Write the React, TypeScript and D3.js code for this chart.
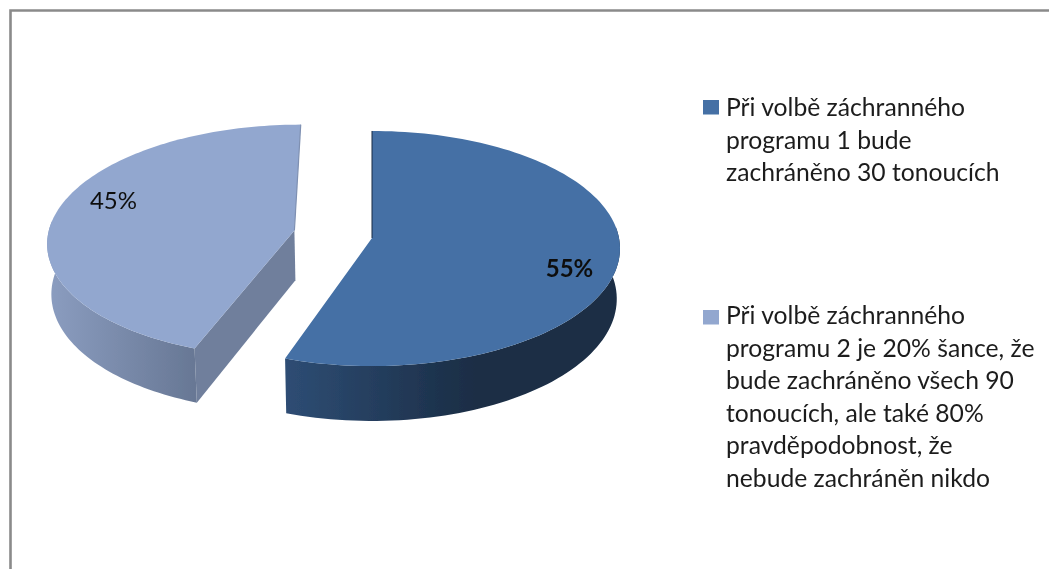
import React from "react";
import * as d3 from "d3";

const categories = [
  ["Při volbě záchranného", "programu 1 bude", "zachráněno 30 tonoucích"],
  ["Při volbě záchranného", "programu 2 je 20% šance, že", "bude zachráněno všech 90", "tonoucích, ale také 80%", "pravděpodobnost, že", "nebude zachráněn nikdo"],
];
const values = [55, 45];
const percentLabels = ["55%", "45%"];
const topColors = ["#4470a5", "#92a7cf"];
const explodeX = [0, -0.316];
const explodeZ = [0, -0.065];
const viewSkew = [0.014, 0.04];
const labelPos = [[569.5, 276.5], [113.5, 209]];
const labelWeight = [700, 400];
const legendBaselines = [[116, 148.5, 180.5], [324, 357, 389, 421.5, 454, 487]];
const legendMarkerTop = [100, 310];

const W = 1049, H = 569;
const cx = 372, cy = 238, persp = 0.0894, depth = 50, shrink = 0.987;
const sx = d3.scaleLinear().domain([0, 1]).range([0, 247]);
const sy = d3.scaleLinear().domain([0, 1]).range([0, 116.6]);

const project = (u: number, v: number) => {
  const d = 1 - persp * v;
  return [cx + sx(u) / d, cy + sy(v) / d, d];
};
const projectLow = (u: number, v: number) => {
  const [x, y, d] = project(u, v);
  return [cx + (x - cx) * shrink, y + depth / d];
};

const arcs = d3.pie<number>().sort(null)(values);
const line = d3.line();

export default function App() {
  const slices = arcs.map((a, i) => {
    const dx = explodeX[i], dz = explodeZ[i];
    const angles = d3.range(0, 121)
      .map((k) => a.startAngle + ((a.endAngle - a.startAngle) * k) / 120)
      .map((t) => t + viewSkew[i] * Math.sin(t / 2));
    const uv = angles.map((t) => [Math.sin(t) + dx, -Math.cos(t) + dz]);
    const rim = uv.map(([u, v]) => project(u, v).slice(0, 2) as [number, number]);
    const rimLow = uv.map(([u, v]) => projectLow(u, v) as [number, number]);
    const apex = project(dx, dz).slice(0, 2) as [number, number];
    const apexLow = projectLow(dx, dz) as [number, number];
    // the part of the rim that faces the viewer
    const front = rim.map((_, k) => k).filter((k) => Math.cos(angles[k]) < 0.1);
    const outer = [...front.map((k) => rim[k]), ...front.slice().reverse().map((k) => rimLow[k])] as [number, number][];
    const corner = i === 0 ? rim[rim.length - 1] : rim[0];
    const cornerLow = i === 0 ? rimLow[rimLow.length - 1] : rimLow[0];
    const cut = [apex, corner, cornerLow, apexLow] as [number, number][];
    const top = [apex, ...rim] as [number, number][];
    return { outer, cut, top, i, apex, rim };
  });

  return (
    <svg width={W} height={H} style={{ position: "absolute", left: 0, top: 0, background: "#fff" }}>
      <defs>
        <linearGradient id="wall0" gradientUnits="userSpaceOnUse" x1={285} x2={475} y1={0} y2={0}>
          <stop offset="0" stopColor="#2e4d74" />
          <stop offset="1" stopColor="#1a2d45" />
        </linearGradient>
        <linearGradient id="wall1" gradientUnits="userSpaceOnUse" x1={48} x2={197} y1={0} y2={0}>
          <stop offset="0" stopColor="#8b9dc0" />
          <stop offset="1" stopColor="#677794" />
        </linearGradient>
        <filter id="soft" x="0" y="0" width="100%" height="100%" filterUnits="userSpaceOnUse">
          <feGaussianBlur stdDeviation="0.45" />
        </filter>
      </defs>
      <g filter="url(#soft)">
        <path d="M10.5 569V10.5H1049" fill="none" stroke="#8a8a8a" strokeWidth={2.6} />
        {slices.slice().reverse().map((s) => (
          <g key={s.i}>
            {s.i === 1 && <path d={line(s.cut)!} fill="#6f7f9c" />}
            <path d={line(s.outer)! + "Z"} fill={`url(#wall${s.i})`} />
            <path d={line(s.top)! + "Z"} fill={topColors[s.i]} />
            {s.i === 0 && <path d={line([s.apex, s.rim[0]])!} stroke="#1a2d45" strokeWidth={1} fill="none" />}
            {s.i === 1 && <path d={line([s.apex, s.rim[s.rim.length - 1]])!} stroke="#7f90b2" strokeWidth={1.2} fill="none" />}
          </g>
        ))}
        <g fontFamily="Lato, 'Open Sans', sans-serif" fill="#111">
          {percentLabels.map((t, i) => (
            <text key={t} x={labelPos[i][0]} y={labelPos[i][1]} textAnchor="middle" fontSize={24} fontWeight={labelWeight[i]}>{t}</text>
          ))}
        </g>
        <g fontFamily="Lato, 'Open Sans', sans-serif" fontSize={24.7} fill="#1c1c1c">
          {categories.map((lines, i) => (
            <g key={i}>
              <rect x={703} y={legendMarkerTop[i]} width={16} height={14.5} fill={topColors[i]} />
              {lines.map((l, j) => (
                <text key={j} x={726} y={legendBaselines[i][j]}>{l}</text>
              ))}
            </g>
          ))}
        </g>
      </g>
    </svg>
  );
}
